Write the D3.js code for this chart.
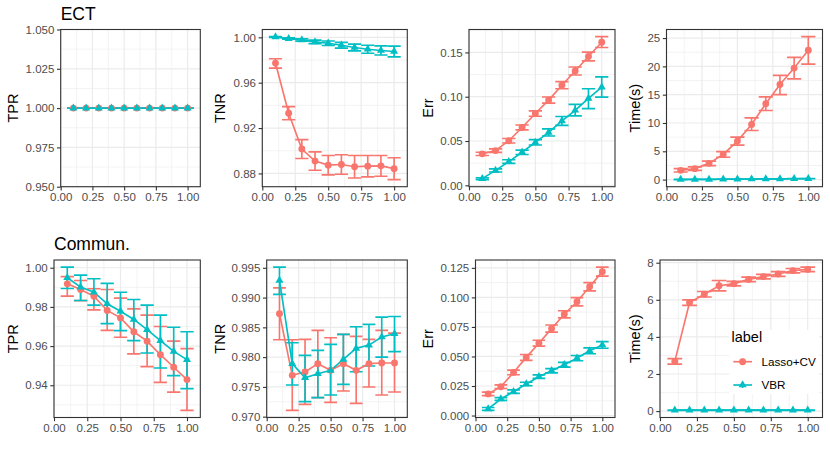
<!DOCTYPE html>
<html><head><meta charset="utf-8">
<script src="https://cdn.jsdelivr.net/npm/d3@7"></script>
<style>
body{margin:0;background:#fff}
text{font-family:"Liberation Sans",Arial,Helvetica,sans-serif}
</style>
</head><body>
<svg id="c" width="830" height="461"></svg>
<script>
// ---------------- DATA ----------------
const xVals = [0.1,0.2,0.3,0.4,0.5,0.6,0.7,0.8,0.9,1.0];
const xTicks = [0,0.25,0.5,0.75,1.0];
const seriesNames = ["Lasso+CV","VBR"];
const rowTitles = ["ECT","Commun."];
const yLabels = ["TPR","TNR","Err","Time(s)"];

// ECT - TPR
const ectTprLasso   = [1,1,1,1,1,1,1,1,1,1];
const ectTprLassoLo = [1,1,1,1,1,1,1,1,1,1];
const ectTprLassoHi = [1,1,1,1,1,1,1,1,1,1];
const ectTprVbr     = [1,1,1,1,1,1,1,1,1,1];
const ectTprVbrLo   = [1,1,1,1,1,1,1,1,1,1];
const ectTprVbrHi   = [1,1,1,1,1,1,1,1,1,1];
const ectTprTicks   = [0.95,0.975,1.0,1.025,1.05];

// ECT - TNR
const ectTnrLasso   = [0.9773,0.9331,0.9015,0.8909,0.8873,0.8879,0.8859,0.8864,0.8867,0.8842];
const ectTnrLassoLo = [0.9729,0.9273,0.8932,0.8828,0.8787,0.8793,0.8760,0.8769,0.8775,0.8746];
const ectTnrLassoHi = [0.9811,0.9389,0.9098,0.8990,0.8958,0.8965,0.8958,0.8958,0.8958,0.8938];
const ectTnrVbr     = [1.0003,0.9989,0.9977,0.9960,0.9948,0.9930,0.9910,0.9895,0.9884,0.9875];
const ectTnrVbrLo   = [1.0000,0.9983,0.9967,0.9945,0.9928,0.9905,0.9880,0.9860,0.9844,0.9827];
const ectTnrVbrHi   = [1.0006,0.9995,0.9987,0.9975,0.9968,0.9955,0.9940,0.9930,0.9924,0.9923];
const ectTnrTicks   = [0.88,0.92,0.96,1.00];

// ECT - Err
const ectErrLasso   = [0.0355,0.0392,0.0503,0.0653,0.0810,0.0962,0.1130,0.1290,0.1454,0.1615];
const ectErrLassoLo = [0.0337,0.0372,0.0478,0.0625,0.0780,0.0927,0.1090,0.1245,0.1404,0.1555];
const ectErrLassoHi = [0.0373,0.0412,0.0528,0.0681,0.0840,0.0997,0.1170,0.1335,0.1504,0.1678];
const ectErrVbr     = [0.0075,0.0168,0.0268,0.0373,0.0485,0.0597,0.0727,0.0847,0.0981,0.1107];
const ectErrVbrLo   = [0.0065,0.0150,0.0248,0.0348,0.0455,0.0557,0.0677,0.0783,0.0866,0.0996];
const ectErrVbrHi   = [0.0085,0.0186,0.0288,0.0398,0.0515,0.0637,0.0777,0.0914,0.1090,0.1224];
const ectErrTicks   = [0,0.05,0.10,0.15];

// ECT - Time
const ectTimeLasso   = [1.64,1.94,2.87,4.45,6.80,9.73,13.40,16.80,19.70,22.85];
const ectTimeLassoLo = [1.34,1.64,2.47,3.95,6.10,8.67,12.20,15.00,17.80,20.40];
const ectTimeLassoHi = [1.94,2.24,3.27,4.95,7.50,10.90,14.60,18.40,21.60,25.25];
const ectTimeVbr     = [0.02,0.04,0.05,0.07,0.08,0.10,0.12,0.14,0.16,0.18];
const ectTimeVbrLo   = [0.01,0.03,0.04,0.06,0.07,0.09,0.11,0.13,0.15,0.17];
const ectTimeVbrHi   = [0.03,0.05,0.06,0.08,0.09,0.11,0.13,0.15,0.17,0.19];
const ectTimeTicks   = [0,5,10,15,20,25];

// Commun. - TPR
const comTprLasso   = [0.9918,0.9889,0.9855,0.9782,0.9744,0.9673,0.9625,0.9556,0.9492,0.9429];
const comTprLassoLo = [0.9855,0.9832,0.9785,0.9680,0.9645,0.9560,0.9495,0.9415,0.9365,0.9272];
const comTprLassoHi = [0.9955,0.9935,0.9893,0.9889,0.9845,0.9790,0.9758,0.9700,0.9625,0.9587];
const comTprVbr     = [0.9949,0.9901,0.9875,0.9816,0.9778,0.9736,0.9684,0.9628,0.9573,0.9531];
const comTprVbrLo   = [0.9894,0.9833,0.9809,0.9715,0.9679,0.9628,0.9565,0.9488,0.9449,0.9383];
const comTprVbrHi   = [1.0003,0.9962,0.9944,0.9920,0.9875,0.9838,0.9809,0.9758,0.9696,0.9673];
const comTprTicks   = [0.94,0.96,0.98,1.00];

// Commun. - TNR
const comTnrLasso   = [0.98728,0.97694,0.97750,0.97890,0.97778,0.97890,0.97778,0.97890,0.97901,0.97901];
const comTnrLassoLo = [0.98292,0.97106,0.97207,0.97319,0.97240,0.97431,0.97224,0.97498,0.97364,0.97414];
const comTnrLassoHi = [0.99164,0.98292,0.98298,0.98449,0.98326,0.98381,0.98348,0.98298,0.98449,0.98404];
const comTnrVbr     = [0.99287,0.97890,0.97654,0.97721,0.97778,0.97962,0.98147,0.98202,0.98337,0.98393];
const comTnrVbrLo   = [0.99053,0.97531,0.97252,0.97319,0.97364,0.97542,0.97755,0.97850,0.98001,0.98091];
const comTnrVbrHi   = [0.99511,0.98242,0.98029,0.98113,0.98214,0.98381,0.98510,0.98549,0.98672,0.98683];
const comTnrTicks   = [0.970,0.975,0.980,0.985,0.990,0.995];

// Commun. - Err
const comErrLasso   = [0.0183,0.0244,0.0365,0.0492,0.0612,0.0736,0.0857,0.0963,0.1090,0.1218];
const comErrLassoLo = [0.0168,0.0229,0.0345,0.0467,0.0587,0.0706,0.0827,0.0928,0.1055,0.1180];
const comErrLassoHi = [0.0198,0.0259,0.0385,0.0517,0.0637,0.0766,0.0887,0.0998,0.1125,0.1256];
const comErrVbr     = [0.0056,0.0140,0.0202,0.0267,0.0329,0.0379,0.0430,0.0486,0.0548,0.0598];
const comErrVbrLo   = [0.0044,0.0128,0.0187,0.0252,0.0314,0.0361,0.0410,0.0464,0.0523,0.0570];
const comErrVbrHi   = [0.0068,0.0152,0.0217,0.0282,0.0344,0.0397,0.0450,0.0508,0.0573,0.0626];
const comErrTicks   = [0,0.025,0.05,0.075,0.10,0.125];

// Commun. - Time
const comTimeLasso   = [2.68,5.85,6.30,6.76,6.87,7.10,7.25,7.39,7.57,7.64];
const comTimeLassoLo = [2.53,5.70,6.15,6.48,6.75,6.98,7.13,7.26,7.45,7.52];
const comTimeLassoHi = [2.83,6.00,6.45,7.04,6.99,7.22,7.37,7.52,7.69,7.76];
const comTimeVbr     = [0.05,0.05,0.05,0.05,0.05,0.05,0.05,0.05,0.05,0.05];
const comTimeVbrLo   = [0.04,0.04,0.04,0.04,0.04,0.04,0.04,0.04,0.04,0.04];
const comTimeVbrHi   = [0.06,0.06,0.06,0.06,0.06,0.06,0.06,0.06,0.06,0.06];
const comTimeTicks   = [0,2,4,6,8];

// ---------------- LAYOUT ----------------
const COL = {lasso:"#F8766D", vbr:"#00BFC4"};
const LW = 1.65;
const cellW = 207.5;
const rowsGeom = [{top:29.5, bottom:186.7, titleY:19.5}, {top:260, bottom:417.5, titleY:250}];
const panelLefts = [[60.7,262.3,469,666.5],[54,266.7,475.5,660]];
const panelRights = [200.3,407.3,615,822.5];

function mk(m,lo,hi){ return xVals.map((x,i)=>({x, m:m[i], lo:lo[i], hi:hi[i]})); }

const panels = [
  {r:0,c:0,ticks:ectTprTicks,fmt:".3f",lasso:mk(ectTprLasso,ectTprLassoLo,ectTprLassoHi),vbr:mk(ectTprVbr,ectTprVbrLo,ectTprVbrHi)},
  {r:0,c:1,ticks:ectTnrTicks,fmt:".2f",lasso:mk(ectTnrLasso,ectTnrLassoLo,ectTnrLassoHi),vbr:mk(ectTnrVbr,ectTnrVbrLo,ectTnrVbrHi)},
  {r:0,c:2,ticks:ectErrTicks,fmt:".2f",lasso:mk(ectErrLasso,ectErrLassoLo,ectErrLassoHi),vbr:mk(ectErrVbr,ectErrVbrLo,ectErrVbrHi)},
  {r:0,c:3,ticks:ectTimeTicks,fmt:"d",lasso:mk(ectTimeLasso,ectTimeLassoLo,ectTimeLassoHi),vbr:mk(ectTimeVbr,ectTimeVbrLo,ectTimeVbrHi)},
  {r:1,c:0,ticks:comTprTicks,fmt:".2f",lasso:mk(comTprLasso,comTprLassoLo,comTprLassoHi),vbr:mk(comTprVbr,comTprVbrLo,comTprVbrHi)},
  {r:1,c:1,ticks:comTnrTicks,fmt:".3f",lasso:mk(comTnrLasso,comTnrLassoLo,comTnrLassoHi),vbr:mk(comTnrVbr,comTnrVbrLo,comTnrVbrHi)},
  {r:1,c:2,ticks:comErrTicks,fmt:".3f",lasso:mk(comErrLasso,comErrLassoLo,comErrLassoHi),vbr:mk(comErrVbr,comErrVbrLo,comErrVbrHi)},
  {r:1,c:3,ticks:comTimeTicks,fmt:"d",lasso:mk(comTimeLasso,comTimeLassoLo,comTimeLassoHi),vbr:mk(comTimeVbr,comTimeVbrLo,comTimeVbrHi)}
];

const svg = d3.select("#c");
svg.append("rect").attr("width",830).attr("height",461).attr("fill","#fff");

function minorsOf(t, dom){
  const step = t[1]-t[0];
  const out = [];
  for (let i=-1;i<t.length;i++){
    const v = t[0] + (i+0.5)*step;
    if (v>=dom[0] && v<=dom[1]) out.push(v);
  }
  return out;
}

const circleSym = d3.symbol().type(d3.symbolCircle).size(37);
const triSym = d3.symbol().type(d3.symbolTriangle).size(28);

panels.forEach(p=>{
  const rg = rowsGeom[p.r];
  const left = panelLefts[p.r][p.c], right = panelRights[p.c];
  const top = rg.top, bottom = rg.bottom;
  const x = d3.scaleLinear().domain([0,1.1]).range([left,right]);
  const vals = [];
  [p.lasso,p.vbr].forEach(s=>s.forEach(d=>vals.push(d.m,d.lo,d.hi)));
  const [mn,mx] = d3.extent(vals);
  const dom = mn===mx ? [mn*0.95, mx*1.05] : [mn-(mx-mn)*0.05, mx+(mx-mn)*0.05];
  const y = d3.scaleLinear().domain(dom).range([bottom,top]);
  const g = svg.append("g");

  g.append("rect").attr("x",left).attr("y",top).attr("width",right-left).attr("height",bottom-top).attr("fill","#fff");

  // minor grid
  const xm = minorsOf(xTicks,[0,1.1]);
  const ym = minorsOf(p.ticks,dom);
  g.selectAll(null).data(xm).enter().append("line")
    .attr("x1",d=>x(d)).attr("x2",d=>x(d)).attr("y1",top).attr("y2",bottom)
    .attr("stroke","#EBEBEB").attr("stroke-width",0.6);
  g.selectAll(null).data(ym).enter().append("line")
    .attr("y1",d=>y(d)).attr("y2",d=>y(d)).attr("x1",left).attr("x2",right)
    .attr("stroke","#EBEBEB").attr("stroke-width",0.6);
  // major grid
  g.selectAll(null).data(xTicks).enter().append("line")
    .attr("x1",d=>x(d)).attr("x2",d=>x(d)).attr("y1",top).attr("y2",bottom)
    .attr("stroke","#EBEBEB").attr("stroke-width",1.2);
  g.selectAll(null).data(p.ticks).enter().append("line")
    .attr("y1",d=>y(d)).attr("y2",d=>y(d)).attr("x1",left).attr("x2",right)
    .attr("stroke","#EBEBEB").attr("stroke-width",1.2);

  const series = [{k:"lasso",d:p.lasso},{k:"vbr",d:p.vbr}];
  // error bars
  series.forEach(s=>{
    const eg = g.append("g").attr("stroke",COL[s.k]).attr("stroke-width",LW).attr("fill","none");
    s.d.forEach(d=>{
      eg.append("path").attr("d",
        `M${x(d.x-0.05)},${y(d.hi)}H${x(d.x+0.05)}M${x(d.x)},${y(d.hi)}V${y(d.lo)}M${x(d.x-0.05)},${y(d.lo)}H${x(d.x+0.05)}`);
    });
  });
  // lines
  const line = d3.line().x(d=>x(d.x)).y(d=>y(d.m));
  series.forEach(s=>{
    g.append("path").datum(s.d).attr("d",line).attr("fill","none")
      .attr("stroke",COL[s.k]).attr("stroke-width",LW);
  });
  // points
  series.forEach(s=>{
    g.selectAll(null).data(s.d).enter().append("path")
      .attr("transform",d=>`translate(${x(d.x)},${y(d.m)})`)
      .attr("d", s.k==="lasso" ? circleSym() : triSym())
      .attr("fill",COL[s.k]);
  });

  // border
  g.append("rect").attr("x",left).attr("y",top).attr("width",right-left).attr("height",bottom-top)
    .attr("fill","none").attr("stroke","#333333").attr("stroke-width",1.1);

  // axes
  const ax = g.append("g").attr("transform",`translate(0,${bottom})`)
    .call(d3.axisBottom(x).tickValues(xTicks).tickFormat(d3.format(".2f")).tickSize(3.7).tickPadding(2.6));
  const ay = g.append("g").attr("transform",`translate(${left},0)`)
    .call(d3.axisLeft(y).tickValues(p.ticks).tickFormat(d3.format(p.fmt)).tickSize(3.7).tickPadding(2.6));
  [ax,ay].forEach(a=>{
    a.select(".domain").remove();
    a.selectAll(".tick line").attr("stroke","#333333").attr("stroke-width",1.1);
    a.selectAll(".tick text").attr("fill","#4D4D4D").style("font-size","11.5px")
      .style("font-family","'Liberation Sans',Arial,sans-serif");
  });

  // y axis title
  const cx = p.c*cellW + 17.8, cy = (top+bottom)/2;
  g.append("text").attr("transform",`translate(${cx},${cy}) rotate(-90)`)
    .attr("text-anchor","middle").style("font-size","14.5px").attr("fill","#000")
    .text(yLabels[p.c]);

  if (p.c===0){
    svg.append("text").attr("x",left).attr("y",rg.titleY).style("font-size","17.5px").attr("fill","#000")
      .text(rowTitles[p.r]);
  }
});

// legend (inside bottom-right panel)
const lg = svg.append("g");
lg.append("rect").attr("x",729).attr("y",330).attr("width",90).attr("height",64).attr("fill","#fff");
lg.append("text").attr("x",731.5).attr("y",341.7).style("font-size","14.5px").attr("fill","#000").text("label");
const keyY = [361.7, 385];
seriesNames.forEach((nm,i)=>{
  const k = i===0 ? "lasso" : "vbr";
  lg.append("line").attr("x1",733.3).attr("x2",752).attr("y1",keyY[i]).attr("y2",keyY[i])
    .attr("stroke",COL[k]).attr("stroke-width",LW);
  lg.append("line").attr("x1",742.6).attr("x2",742.6).attr("y1",keyY[i]-3).attr("y2",keyY[i]+3)
    .attr("stroke",COL[k]).attr("stroke-width",LW);
  lg.append("path").attr("transform",`translate(742.6,${keyY[i]})`)
    .attr("d", (i===0?circleSym:triSym)()).attr("fill",COL[k]);
  lg.append("text").attr("x",761.5).attr("y",keyY[i]).attr("dy","0.36em")
    .style("font-size","11.7px").attr("fill","#000").text(nm);
});
</script>
</body></html>
